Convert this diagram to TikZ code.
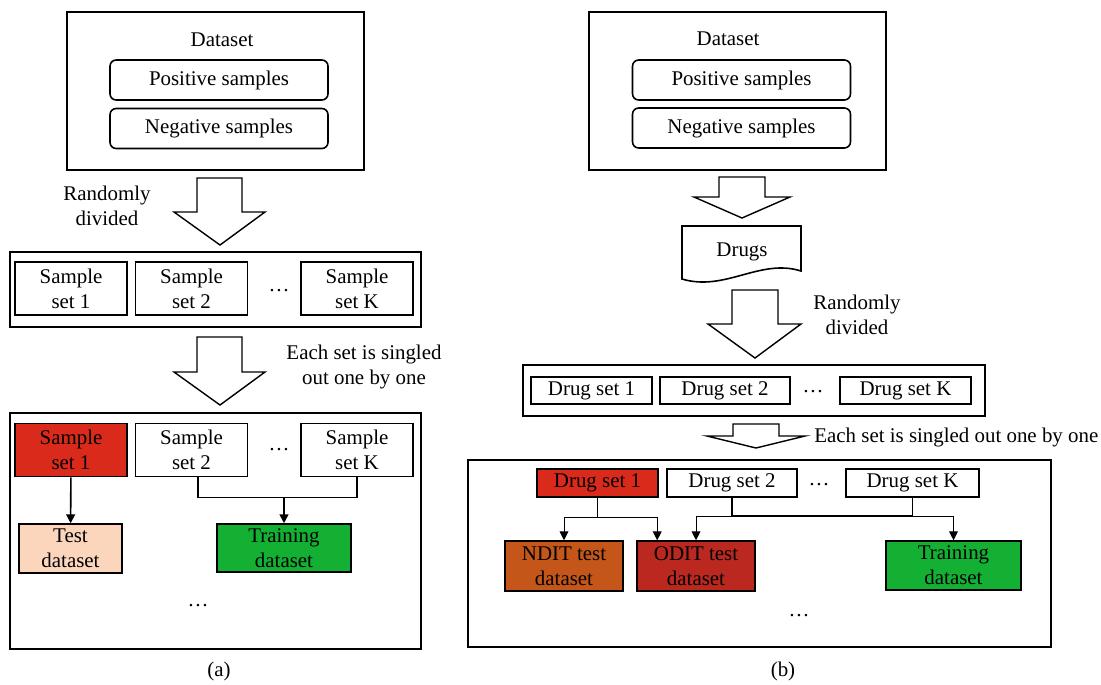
\documentclass[tikz,border=0pt]{standalone}
\usepackage{fontspec}
\setmainfont{Liberation Serif}
\usetikzlibrary{arrows.meta}
\definecolor{setred}{RGB}{218,42,28}
\definecolor{peach}{RGB}{252,213,189}
\definecolor{traingreen}{RGB}{20,176,52}
\definecolor{nditbrown}{RGB}{196,86,26}
\definecolor{oditred}{RGB}{186,40,32}
\begin{document}
\begin{tikzpicture}[x=0.02cm, y=-0.02cm,
    font=\fontsize{11.9}{14.3}\selectfont,
    frame/.style={draw, line width=1.1pt, inner sep=0pt},
    setbox/.style={draw, line width=0.9pt, inner sep=0pt, align=center,
      minimum width=2.24cm, minimum height=1.06cm},
    drugbox/.style={draw, line width=0.9pt, inner sep=0pt, minimum height=0.54cm},
    samplebox/.style={draw, line width=0.9pt, rounded corners=3.5pt, inner sep=0pt,
      minimum width=4.36cm, minimum height=0.8cm},
    outbox/.style={draw, line width=0.9pt, inner sep=0pt, align=center,
      minimum height=0.98cm},
    hollow/.style={draw, line width=0.8pt, fill=white, line join=miter},
    link/.style={line width=0.9pt},
    tip/.style={-{Triangle[length=5pt,width=5pt]}},
    branch/.style={line width=0.5pt, tip},
  ]
  \useasboundingbox (0,0) rectangle (1101,684);
  % (a)
  \node[frame, minimum width=5.94cm, minimum height=3.16cm] (dataA) at (215.5,91) {};
  \node (titleA) at (222,40) {Dataset};
  \node[samplebox] (posA) at (219,80) {Positive samples};
  \node[samplebox] (negA) at (219,128.5) {Negative samples};
  \draw[hollow] (197,178) -- (242,178) -- (242,212) -- (265,212) -- (220,245)
    -- (174,212) -- (197,212) -- cycle;
  \node[align=center] (randA) at (107,206) {Randomly\\divided};
  \node[frame, minimum width=8.22cm, minimum height=1.5cm] (setsA) at (215.5,289.5) {};
  \node[setbox] (sA1) at (71,288.5) {Sample\\set 1};
  \node[setbox] (sA2) at (191.5,288.5) {Sample\\set 2};
  \node (dotsA1) at (279,291) {\dots};
  \node[setbox] (sAK) at (357,288.5) {Sample\\set K};
  \draw[hollow] (197,337) -- (242,337) -- (242,372) -- (265,372) -- (220,405)
    -- (174,372) -- (197,372) -- cycle;
  \node[align=center] (singleA) at (364,367) {Each set is singled\\out one by one};
  \node[frame, minimum width=8.22cm, minimum height=4.72cm] (bottomA) at (215.5,531) {};
  \node[setbox, fill=setred] (rA1) at (71,450) {Sample\\set 1};
  \node[setbox] (rA2) at (191.5,450) {Sample\\set 2};
  \node (dotsA2) at (279,450) {\dots};
  \node[setbox] (rAK) at (357,450) {Sample\\set K};
  \node[outbox, fill=peach, minimum width=2.06cm] (testA) at (70.5,548.5) {Test\\dataset};
  \node[outbox, fill=traingreen, minimum width=2.68cm, minimum height=0.96cm] (trainA)
    at (284,548) {Training\\dataset};
  \coordinate (jA) at (284,497);
  \draw[link, tip] (rA1) -- (testA);
  \draw[link] ([xshift=0.13cm]rA2.south) -- ++(0,20) -| (rAK.south);
  \draw[link, tip] (jA) -- (trainA);
  \node (dotsA3) at (198,606) {\dots};
  \node (capA) at (219,671) {(a)};
  % (b)
  \node[frame, minimum width=5.94cm, minimum height=3.16cm] (dataB) at (737.5,91) {};
  \node (titleB) at (728,39) {Dataset};
  \node[samplebox] (posB) at (741.5,80) {Positive samples};
  \node[samplebox] (negB) at (741.5,128) {Negative samples};
  \draw[hollow] (719,177) -- (765,177) -- (765,197) -- (790,197) -- (742,218)
    -- (694,197) -- (719,197) -- cycle;
  \draw[line width=0.9pt] (682,226) -- (801,226) -- (801,271)
    .. controls (760,258) and (725,292) .. (682,279) -- cycle;
  \node (drugs) at (742,252) {Drugs};
  \draw[hollow] (732,290) -- (778,290) -- (778,324) -- (801,324) -- (755,358)
    -- (708,324) -- (732,324) -- cycle;
  \node[align=center] (randB) at (857,315) {Randomly\\divided};
  \node[frame, minimum width=9.24cm, minimum height=1.02cm] (setsB) at (754,390.5) {};
  \node[drugbox, minimum width=2.42cm] (dS1) at (591.5,390.5) {Drug set 1};
  \node[drugbox, minimum width=2.6cm] (dS2) at (725,390.5) {Drug set 2};
  \node (dotsB1) at (813,392) {\dots};
  \node[drugbox, minimum width=2.62cm] (dSK) at (905.5,390.5) {Drug set K};
  \draw[hollow] (733,424) -- (779,424) -- (779,436) -- (805,436) -- (756,448)
    -- (707,436) -- (733,436) -- cycle;
  \node[anchor=west, inner sep=0pt] (singleB) at (814,437) {Each set is singled out one by one};
  \node[frame, minimum width=11.66cm, minimum height=3.74cm] (bottomB) at (759.5,553.5) {};
  \node[drugbox, fill=setred, minimum width=2.42cm, minimum height=0.56cm] (rB1)
    at (597.5,483) {Drug set 1};
  \node[drugbox, minimum width=2.6cm, minimum height=0.56cm] (rB2) at (732,483) {Drug set 2};
  \node (dotsB2) at (819,485) {\dots};
  \node[drugbox, minimum width=2.66cm, minimum height=0.56cm] (rBK) at (912.5,483) {Drug set K};
  \node[outbox, fill=nditbrown, minimum width=2.36cm, minimum height=1cm] (ndit)
    at (564,566) {NDIT test\\dataset};
  \node[outbox, fill=oditred, minimum width=2.36cm, minimum height=1cm] (odit)
    at (696,566) {ODIT test\\dataset};
  \node[outbox, fill=traingreen, minimum width=2.7cm] (trainB) at (953.5,565.5) {Training\\dataset};
  \coordinate (jB1) at (597.5,517);
  \coordinate (jB2) at (732,516);
  \coordinate (jB3) at (912.5,516);
  \draw[link] (rB1.south) -- (jB1);
  \draw[branch] (jB1) -| (ndit);
  \draw[branch] (jB1) -| ([xshift=0.42cm]odit.north west);
  \draw[link] (rB2.south) -- (jB2) -| (rBK.south);
  \draw[branch] (jB2) -| (odit);
  \draw[branch] (jB3) -| (trainB);
  \node (dotsB3) at (799,616) {\dots};
  \node (capB) at (783,671) {(b)};
\end{tikzpicture}
\end{document}
